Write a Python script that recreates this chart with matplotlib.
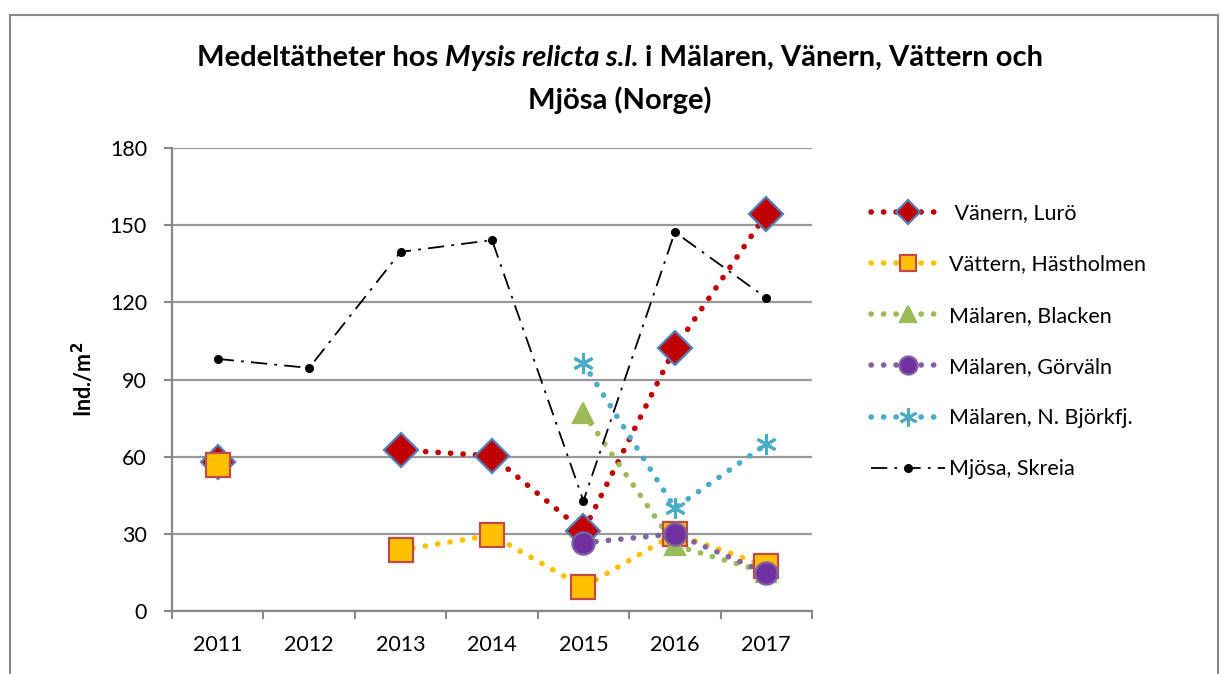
import numpy as np
import matplotlib
matplotlib.use("Agg")
import matplotlib.pyplot as plt
from matplotlib.patches import Rectangle
from matplotlib.lines import Line2D

plt.rcParams['font.family'] = ['Lato', 'DejaVu Sans']

# data (None = no value that year)
years = ['2011', '2012', '2013', '2014', '2015', '2016', '2017']
vanern = [58, None, 62.6, 60.3, 31, 102.2, 154.3]
vattern = [56.8, None, 23.7, 29.5, 9.3, 30, 17.5]
blacken = [None, None, None, None, 77, 25.5, 15]
gorvaln = [None, None, None, None, 26.5, 30, 14.8]
bjorkfj = [None, None, None, None, 96.3, 40, 64.8]
mjosa = [98, 94.5, 139.6, 144.2, 42.8, 147.3, 121.7]

labels = [' Vänern, Lurö', 'Vättern, Hästholmen', 'Mälaren, Blacken',
          'Mälaren, Görväln', 'Mälaren, N. Björkfj.', 'Mjösa, Skreia']

dotted = (0, (0.05, 2.2))

styles = [
    dict(color='#C00000', marker='D', mfc='#C00000', mec='#4F81BD', ms=17, lms=12),
    dict(color='#FFC000', marker='s', mfc='#FFC000', mec='#BE4B48', ms=17, lms=12),
    dict(color='#9BBB59', marker='^', mfc='#9BBB59', mec='#9BBB59', ms=15, lms=12),
    dict(color='#8064A2', marker='o', mfc='#7030A0', mec='#8064A2', ms=16, lms=13),
    dict(color='#4BACC6', marker=(6, 2, 0), mfc='#4BACC6', mec='#4BACC6', ms=15, lms=13),
]


def to_xy(vals):
    # None -> nan so that the line breaks at missing years
    return np.arange(len(vals)), np.array([np.nan if v is None else v for v in vals])


fig = plt.figure(figsize=(12.21, 6.74), dpi=100)
fig.patches.append(Rectangle((10 / 1221, -0.05), 1208 / 1221, 1.05 - 15 / 674,
                             transform=fig.transFigure, fill=False,
                             edgecolor='#888888', lw=1.5))

ax = fig.add_axes([172 / 1221, 63 / 674, 640 / 1221, 463 / 674])

series = [vanern, vattern, blacken, gorvaln, bjorkfj]
for vals, st in zip(series, styles):
    xs, ys = to_xy(vals)
    mew = 2.2 if st['marker'] == (6, 2, 0) else 1.6
    ax.plot(xs, ys, color=st['color'], lw=4, linestyle=dotted,
            dash_capstyle='round', zorder=3)
    ax.plot(xs, ys, linestyle='none', marker=st['marker'], ms=st['ms'],
            mfc=st['mfc'], mec=st['mec'], mew=mew, zorder=4)

x_m = np.arange(len(years))
ax.plot(x_m, mjosa, color='black', lw=1.3, dashes=(9, 4, 1.5, 4),
        marker='o', ms=5.5, zorder=5)

ax.set_xlim(-0.5, 6.5)
ax.set_ylim(0, 180)
ax.set_yticks(np.arange(0, 181, 30))
ax.set_xticks(np.arange(-0.5, 6.6, 1))
ax.set_xticklabels([])
ax.set_xticks(x_m, minor=True)
ax.set_xticklabels(years, minor=True)
ax.tick_params(axis='x', which='major', length=6, width=1.5, color='#888888')
ax.tick_params(axis='x', which='minor', length=0, pad=17, labelsize=15.5)
ax.tick_params(axis='y', length=6, width=1.5, color='#888888', labelsize=15.5, pad=12)
ax.grid(axis='y', color='#999999', lw=1.6)
ax.set_axisbelow(True)
for s in ['top', 'right']:
    ax.spines[s].set_visible(False)
for s in ['left', 'bottom']:
    ax.spines[s].set_color('#888888')
    ax.spines[s].set_linewidth(1.6)

ax.set_ylabel('Ind./m$^\\mathbf{2}$', fontsize=15.5, fontweight='bold', labelpad=10)

# title in three pieces (bold / bold italic / bold), centred as a whole
parts = [('Medeltätheter hos ', 'normal'), ('Mysis relicta s.l', 'italic'),
         ('. i Mälaren, Vänern, Vättern och', 'normal')]
fs_title = 21
renderer = fig.canvas.get_renderer()
texts = []
for s, style in parts:
    t = fig.text(0, 1 - 58 / 674, s, ha='left', va='center', fontsize=fs_title,
                 fontweight='bold', fontstyle=style)
    texts.append(t)
widths = [t.get_window_extent(renderer).width for t in texts]
x0 = 620 - sum(widths) / 2
for t, w in zip(texts, widths):
    t.set_x(x0 / 1221)
    x0 += w
fig.text(620 / 1221, 1 - 100 / 674, 'Mjösa (Norge)', ha='center', va='center',
         fontsize=fs_title, fontweight='bold')

handles = []
for st in styles:
    mew = 2.0 if st['marker'] == (6, 2, 0) else 1.6
    handles.append(Line2D([], [], color=st['color'], lw=4, linestyle=dotted,
                          dash_capstyle='round', marker=st['marker'], ms=st['lms'],
                          mfc=st['mfc'], mec=st['mec'], mew=mew))
handles.append(Line2D([], [], color='black', lw=1.3, dashes=(9, 4, 1.5, 4),
                      marker='o', ms=5.5))
fig.legend(handles, labels, loc='upper left', bbox_to_anchor=(852 / 1221, 1 - 184 / 674),
           frameon=False, fontsize=15.5, handlelength=3.4, labelspacing=1.45,
           handletextpad=0.2, markerscale=1)

fig.savefig('out.png', dpi=100)
